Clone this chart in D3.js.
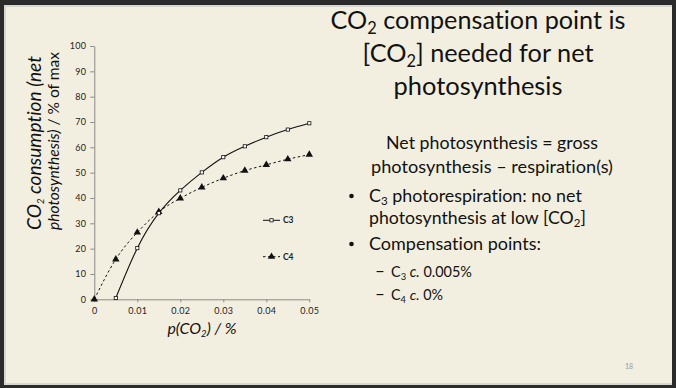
<!DOCTYPE html>
<html>
<head>
<meta charset="utf-8">
<script src="https://cdn.jsdelivr.net/npm/d3@7"></script>
<style>
  html, body { margin: 0; padding: 0; background: #2b2b2b; }
  svg { display: block; }
  text { font-variant-ligatures: none; font-feature-settings: "liga" 0, "clig" 0; }
</style>
</head>
<body>
<script>
// ---- data ----
const co2Levels = [0, 0.005, 0.01, 0.015, 0.02, 0.025, 0.03, 0.035, 0.04, 0.045, 0.05];
const c3Values = [null, 0.5, 20.2, 34.0, 43.0, 50.1, 56.1, 60.4, 64.0, 67.0, 69.5];
const c4Values = [0, 15.8, 26.4, 34.5, 39.9, 44.2, 47.8, 50.8, 53.1, 55.3, 57.1];
const seriesNames = ["C3", "C4"];
const xTickValues = [0, 0.01, 0.02, 0.03, 0.04, 0.05];
const xTickLabels = ["0", "0.01", "0.02", "0.03", "0.04", "0.05"];
const yTickValues = [0, 10, 20, 30, 40, 50, 60, 70, 80, 90, 100];
const yTickLabels = ["0", "10", "20", "30", "40", "50", "60", "70", "80", "90", "100"];

const W = 676, H = 388;
const FONT = "Lato, 'Open Sans', sans-serif";
const svg = d3.select("body").append("svg").attr("width", W).attr("height", H);

// slide
svg.append("rect").attr("x", 0).attr("y", 0).attr("width", W).attr("height", H).attr("fill", "#2b2b2b");
svg.append("rect").attr("x", 4).attr("y", 5).attr("width", 668).attr("height", 380).attr("fill", "#d6d6d2");
svg.append("rect").attr("x", 6).attr("y", 7).attr("width", 666).attr("height", 376).attr("fill", "#f3efe0");

// helper: fit text to target width by adjusting font size
function fit(sel, target) {
  const node = sel.node();
  const w = node.getComputedTextLength();
  const fs = parseFloat(sel.attr("font-size"));
  if (w > 0) sel.attr("font-size", (fs * target / w).toFixed(2));
  return sel;
}

// ---- chart ----
const x = d3.scaleLinear().domain([0, 0.05]).range([94.3, 309.3]);
const y = d3.scaleLinear().domain([0, 100]).range([299.3, 46]);
const g = svg.append("g");

const xAxis = d3.axisBottom(x).tickValues(xTickValues)
  .tickFormat((d, i) => xTickLabels[i]).tickSize(3).tickSizeOuter(0).tickPadding(5);
const yAxis = d3.axisLeft(y).tickValues(yTickValues)
  .tickFormat((d, i) => yTickLabels[i]).tickSize(4).tickSizeOuter(0).tickPadding(4);

const gx = g.append("g").attr("transform", `translate(0,${y(0)})`).call(xAxis);
const gy = g.append("g").attr("transform", `translate(${x(0)},0)`).call(yAxis);
[gx, gy].forEach(a => {
  a.attr("font-size", 9).attr("font-family", FONT);
  a.select(".domain").attr("stroke", "#8a8a8a");
  a.selectAll(".tick line").attr("stroke", "#8a8a8a");
  a.selectAll(".tick text").attr("fill", "#222").attr("letter-spacing", 0.3);
});

const c3Data = co2Levels.map((c, i) => ({ x: c, y: c3Values[i] })).filter(d => d.y !== null);
const c4Data = co2Levels.map((c, i) => ({ x: c, y: c4Values[i] }));

const line = d3.line().x(d => x(d.x)).y(d => y(d.y)).curve(d3.curveNatural);

g.append("path").datum(c4Data).attr("d", line).attr("fill", "none")
  .attr("stroke", "#111").attr("stroke-width", 1).attr("stroke-dasharray", "2.5,2.5");
g.append("path").datum(c3Data).attr("d", line).attr("fill", "none")
  .attr("stroke", "#111").attr("stroke-width", 1.1);

const tri = d3.symbol().type(d3.symbolTriangle).size(24);
g.selectAll(".c4m").data(c4Data).enter().append("path")
  .attr("transform", d => `translate(${x(d.x)},${y(d.y)})`)
  .attr("d", tri).attr("fill", "#111");
g.selectAll(".c3m").data(c3Data).enter().append("rect")
  .attr("x", d => x(d.x) - 1.6).attr("y", d => y(d.y) - 1.6)
  .attr("width", 3.2).attr("height", 3.2)
  .attr("fill", "#fff").attr("stroke", "#111").attr("stroke-width", 0.8);

// legend
const legY = [220.3, 256.7];
seriesNames.forEach((name, i) => {
  const ly = legY[i];
  g.append("line").attr("x1", 263).attr("x2", 280).attr("y1", ly).attr("y2", ly)
    .attr("stroke", "#111").attr("stroke-width", 1)
    .attr("stroke-dasharray", i === 1 ? "2.5,2.5" : null);
  if (i === 0) {
    g.append("rect").attr("x", 271.5 - 1.6).attr("y", ly - 1.6).attr("width", 3.2).attr("height", 3.2)
      .attr("fill", "#fff").attr("stroke", "#111").attr("stroke-width", 0.8);
  } else {
    g.append("path").attr("transform", `translate(271.5,${ly})`).attr("d", tri).attr("fill", "#111");
  }
  g.append("text").attr("x", 283).attr("y", ly + 3).attr("font-family", FONT)
    .attr("font-size", 8.5).attr("font-weight", "bold").attr("fill", "#222").text(name);
});

// axis titles
const xt = svg.append("text").attr("x", 202).attr("y", 334).attr("text-anchor", "middle")
  .attr("font-family", FONT).attr("font-size", 14).attr("font-style", "italic").attr("fill", "#111");
xt.append("tspan").text("p(CO");
xt.append("tspan").attr("font-size", 9.5).attr("dy", 3).text("2");
xt.append("tspan").attr("dy", -3).text(") / %");
fit(xt, 70);

const yt1 = svg.append("text").attr("transform", "translate(41,143) rotate(-90)").attr("text-anchor", "middle")
  .attr("font-family", FONT).attr("font-size", 14).attr("font-style", "italic").attr("fill", "#111");
yt1.append("tspan").text("CO");
yt1.append("tspan").attr("font-size", 9.5).attr("dy", 3).text("2");
yt1.append("tspan").attr("dy", -3).text(" consumption  (net");
fit(yt1, 176);

const yt2 = svg.append("text").attr("transform", "translate(59,141) rotate(-90)").attr("text-anchor", "middle")
  .attr("font-family", FONT).attr("font-size", 14).attr("fill", "#111");
yt2.append("tspan").attr("font-style", "italic").text("photosynthesis)");
yt2.append("tspan").text(" / % of max");
fit(yt2, 178);

// ---- slide text ----
function richText(xp, yp, parts, fs, anchor, target, subShift) {
  const sh = subShift || 3;
  const t = svg.append("text").attr("x", xp).attr("y", yp).attr("text-anchor", anchor)
    .attr("font-family", FONT).attr("font-size", fs).attr("fill", "#111");
  let shifted = false;
  parts.forEach(([s, kind]) => {
    const ts = t.append("tspan").text(s);
    if (kind === "sub") { ts.attr("font-size", "0.65em").attr("dy", sh); shifted = true; }
    else if (shifted) { ts.attr("dy", -sh); shifted = false; }
    if (kind === "it") ts.attr("font-style", "italic");
  });
  if (target) fit(t, target);
  return t;
}

richText(478, 29, [["CO"], ["2", "sub"], [" compensation point is"]], 27, "middle", 295, 5);
richText(478, 62, [["[CO"], ["2", "sub"], ["] needed for net"]], 27, "middle", 231, 5);
richText(478, 95, [["photosynthesis"]], 27, "middle", 169);

richText(492, 149, [["Net photosynthesis = gross"]], 20, "middle", 212);
richText(492, 173, [["photosynthesis \u2013 respiration(s)"]], 20, "middle", 242);

svg.append("circle").attr("cx", 351.5).attr("cy", 196).attr("r", 2.3).attr("fill", "#111");
richText(369, 202, [["C"], ["3", "sub"], [" photorespiration: no net"]], 20, "start", 213);
richText(369, 224, [["photosynthesis at low [CO"], ["2", "sub"], ["]"]], 20, "start", 217);
svg.append("circle").attr("cx", 351.5).attr("cy", 244).attr("r", 2.3).attr("fill", "#111");
richText(369, 250, [["Compensation points:"]], 20, "start", 172);

richText(375, 277, [["\u2013"]], 17, "start");
richText(391, 277, [["C"], ["3", "sub"], [" "], ["c.", "it"], [" 0.005%"]], 17, "start", 81);
richText(375, 300, [["\u2013"]], 17, "start");
richText(391, 300, [["C"], ["4", "sub"], [" "], ["c.", "it"], [" 0%"]], 17, "start", 52);

svg.append("text").attr("x", 629).attr("y", 368.5).attr("text-anchor", "middle")
  .attr("font-family", FONT).attr("font-size", 7).attr("fill", "#999").text("18");
</script>
</body>
</html>
